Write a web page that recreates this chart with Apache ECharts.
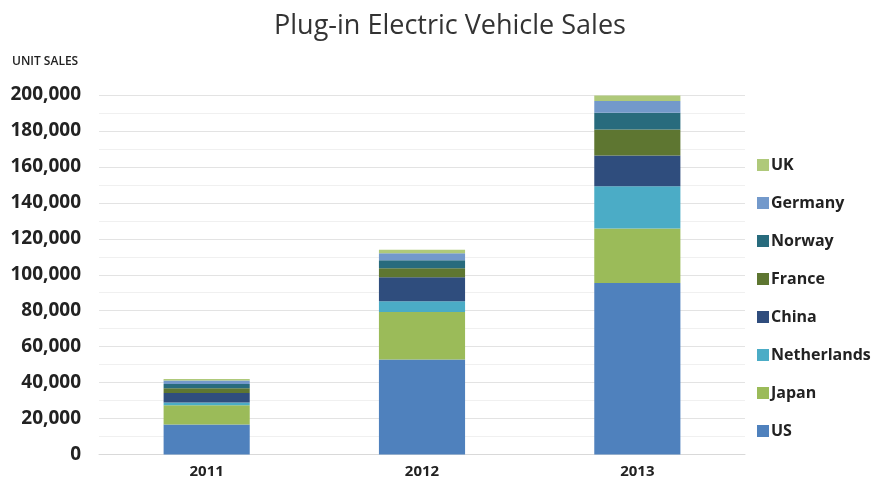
<!DOCTYPE html>
<html>
<head>
<meta charset="utf-8">
<script src="https://cdn.jsdelivr.net/npm/echarts@6/dist/echarts.min.js"></script>
<style>
  html, body { margin: 0; padding: 0; background: #fff; }
  #chart { width: 880px; height: 484px; }
</style>
</head>
<body>
<div id="chart"></div>
<script>
// Plug-in electric vehicle unit sales by country, stacked per year
const years = ['2011', '2012', '2013'];
const seriesNames = ['US', 'Japan', 'Netherlands', 'China', 'France', 'Norway', 'Germany', 'UK'];
const US          = [16700, 52900, 95400];
const Japan       = [10700, 26400, 30300];
const Netherlands = [1500, 6000, 23500];
const China       = [5300, 13300, 17200];
const France      = [2700, 5000, 14400];
const Norway      = [2300, 4500, 9300];
const Germany     = [2000, 3900, 6500];
const UK          = [800, 1900, 3100];
const yTicks = [0, 20000, 40000, 60000, 80000, 100000, 120000, 140000, 160000, 180000, 200000];

const values = { US, Japan, Netherlands, China, France, Norway, Germany, UK };
const colors = {
  US: '#4F81BD', Japan: '#9BBB59', Netherlands: '#4BACC6', China: '#2F4D7D',
  France: '#5E7631', Norway: '#286B7D', Germany: '#7399CB', UK: '#AFC97A'
};

const chart = echarts.init(document.getElementById('chart'));
chart.setOption({
  animation: false,
  backgroundColor: '#fff',
  title: {
    text: 'Plug-in Electric Vehicle Sales',
    left: 445, top: 8, textAlign: 'center',
    textStyle: { fontFamily: 'Open Sans', fontWeight: 'normal', fontSize: 27, color: '#333' }
  },
  graphic: [{
    type: 'text', left: 12, top: 56,
    style: { text: 'UNIT SALES', fontFamily: 'Open Sans', fontWeight: 600, fontSize: 12, fill: '#222' }
  }],
  legend: {
    orient: 'vertical', left: 752, top: 152, itemGap: 22,
    itemWidth: 12, itemHeight: 12, icon: 'rect',
    data: seriesNames.slice().reverse(),
    textStyle: { fontFamily: 'Open Sans', fontWeight: 'bold', fontSize: 16, color: '#222', padding: [0, 0, 0, -3] }
  },
  grid: { left: 99, right: 135, top: 95, bottom: 29.5 },
  xAxis: {
    type: 'category', data: years,
    axisLine: { lineStyle: { color: '#d9d9d9' } },
    axisTick: { show: false },
    axisLabel: { fontFamily: 'Open Sans', fontWeight: 'bold', fontSize: 15, color: '#222', margin: 10 }
  },
  yAxis: {
    type: 'value', min: yTicks[0], max: yTicks[yTicks.length - 1], interval: 20000,
    axisLine: { show: false }, axisTick: { show: false },
    axisLabel: {
      fontFamily: 'Open Sans', fontWeight: 'bold', fontSize: 19, color: '#222', margin: 18,
      formatter: v => v.toLocaleString('en-US')
    },
    splitLine: { lineStyle: { color: '#e3e3e3' } },
    minorTick: { show: false, splitNumber: 2 },
    minorSplitLine: { show: true, lineStyle: { color: '#f0f0f0' } }
  },
  series: seriesNames.map(name => ({
    name, type: 'bar', stack: 'sales', barWidth: '40%',
    data: values[name],
    itemStyle: { color: colors[name] }
  }))
});
</script>
</body>
</html>
